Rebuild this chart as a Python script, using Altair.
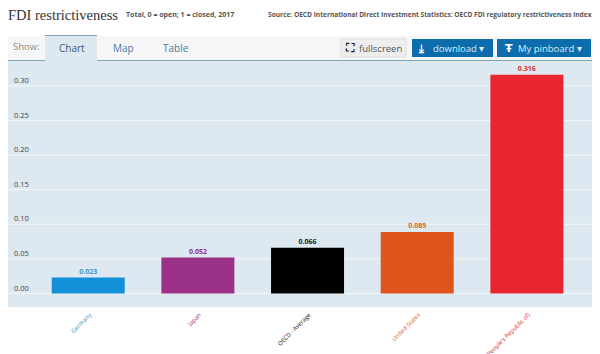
import altair as alt
import pandas as pd

categories = ["Germany", "Japan", "OECD - Average", "United States", "China (People's Republic of)"]
values = [0.023, 0.052, 0.066, 0.089, 0.316]
colors = ["#1490d8", "#9b3087", "#000000", "#e0541e", "#e8262f"]
value_label_colors = ["#3d93c4", "#90307e", "#222222", "#e0612a", "#d8302f"]
ticks = [0.0, 0.05, 0.10, 0.15, 0.20, 0.25, 0.30]
tick_labels = ["0.00", "0.05", "0.10", "0.15", "0.20", "0.25", "0.30"]

FONT = "Open Sans"
W, H = 584, 346
df = pd.DataFrame({"c": categories, "v": values, "col": colors, "lab": [f"{v:.3f}" for v in values],
                   "lc": value_label_colors})
tk = pd.DataFrame({"t": ticks, "l": tick_labels})

xs = alt.Scale(domain=categories, range=[25.4, 573.7], paddingInner=0.334, paddingOuter=0.167)
zero_y = 285.5
per_unit = 34.6 / 0.05
ys = alt.Scale(domain=[-(H - zero_y) / per_unit, zero_y / per_unit], nice=False, zero=False)
X = alt.X("c:N", scale=xs, axis=None, sort=categories)
Y = alt.Y("v:Q", scale=ys, axis=None)
one = alt.Data(values=[{"a": 1}])


def box(x1, x2, y1, y2, fill, **kw):
    return alt.Chart(one).mark_rect(fill=fill, **kw).encode(
        x=alt.value(x1 - 8), x2=alt.value(x2 - 8), y=alt.value(y1 - 8), y2=alt.value(y2 - 8))


def label(x, y, text, size, color, font=FONT, weight="normal", align="left", **kw):
    return alt.Chart(one).mark_text(text=text, fontSize=size, color=color, font=font, fontWeight=weight,
                                    align=align, baseline="alphabetic", **kw).encode(
        x=alt.value(x - 8), y=alt.value(y - 8))


chrome = [
    box(8, 592, 36, 60, "#f6f6f6"),
    box(8, 592, 60, 307, "#dde8f0"),
    box(8, 592, 60, 61, "#7fa6b8"),
    box(45, 97, 36, 61, "#dde8f0"),
    box(45, 97, 35, 36, "#7fa6b8"),
    box(341, 406, 39, 57, "#eeeeee", stroke="#dddddd"),
    box(412, 493, 39, 57, "#0d6cab"),
    box(497, 591, 39, 57, "#0d6cab"),
]
rules = alt.Chart(tk).mark_rule(color="#f4f8fb", strokeWidth=1).encode(y=alt.Y("t:Q", scale=ys, axis=None))
tlabels = alt.Chart(tk).mark_text(align="left", baseline="bottom", fontSize=7.5, color="#444444", font=FONT, dy=-1).encode(
    x=alt.value(6), y=alt.Y("t:Q", scale=ys, axis=None), text="l:N")
bars = alt.Chart(df).mark_bar(size=73).encode(x=X, y=Y, y2=alt.Y2(datum=0), color=alt.Color("col:N", scale=None))
vals = alt.Chart(df).mark_text(baseline="bottom", fontSize=7, fontWeight="bold", font=FONT, dy=-3).encode(
    x=X, y=Y, text="lab:N", color=alt.Color("lc:N", scale=None))
cats = alt.Chart(df).mark_text(angle=315, align="right", baseline="middle", fontSize=6, font=FONT, dx=3).encode(
    x=X, y=alt.value(308), text="c:N", color=alt.Color("lc:N", scale=None))

texts = [
    label(8, 20, "FDI restrictiveness", 14.5, "#333333", font="Liberation Serif"),
    label(126, 17, "Total, 0 = open; 1 = closed, 2017", 7, "#555555", weight="bold"),
    label(268, 17, "Source: OECD International Direct Investment Statistics: OECD FDI regulatory restrictiveness index", 6.6, "#555555", weight="bold"),
    label(13, 50, "Show:", 9.5, "#888888"),
    label(59, 52, "Chart", 10, "#4a5a66"),
    label(113, 52, "Map", 10, "#3f7da6"),
    label(163, 52, "Table", 10, "#3f7da6"),
    label(346, 52, "⛶", 12, "#222222", font="DejaVu Sans", weight="bold"),
    label(359, 52, "fullscreen", 9.5, "#555555"),
    label(419, 52, "⤓", 11, "#ffffff", font="DejaVu Sans", weight="bold"),
    label(433, 52, "download  ▾", 9.5, "#dcecf7"),
    label(505, 52, "Ŧ", 11, "#ffffff", font="DejaVu Sans", weight="bold"),
    label(518, 52, "My pinboard  ▾", 9.5, "#dcecf7"),
]

chart = alt.layer(*chrome, rules, tlabels, bars, vals, cats, *texts).properties(
    width=W, height=H, padding=0, autosize=alt.AutoSizeParams(type="none"), background="#ffffff"
).configure_view(stroke=None)
chart.save("out.html", embed_options={"renderer": "svg", "actions": False})
